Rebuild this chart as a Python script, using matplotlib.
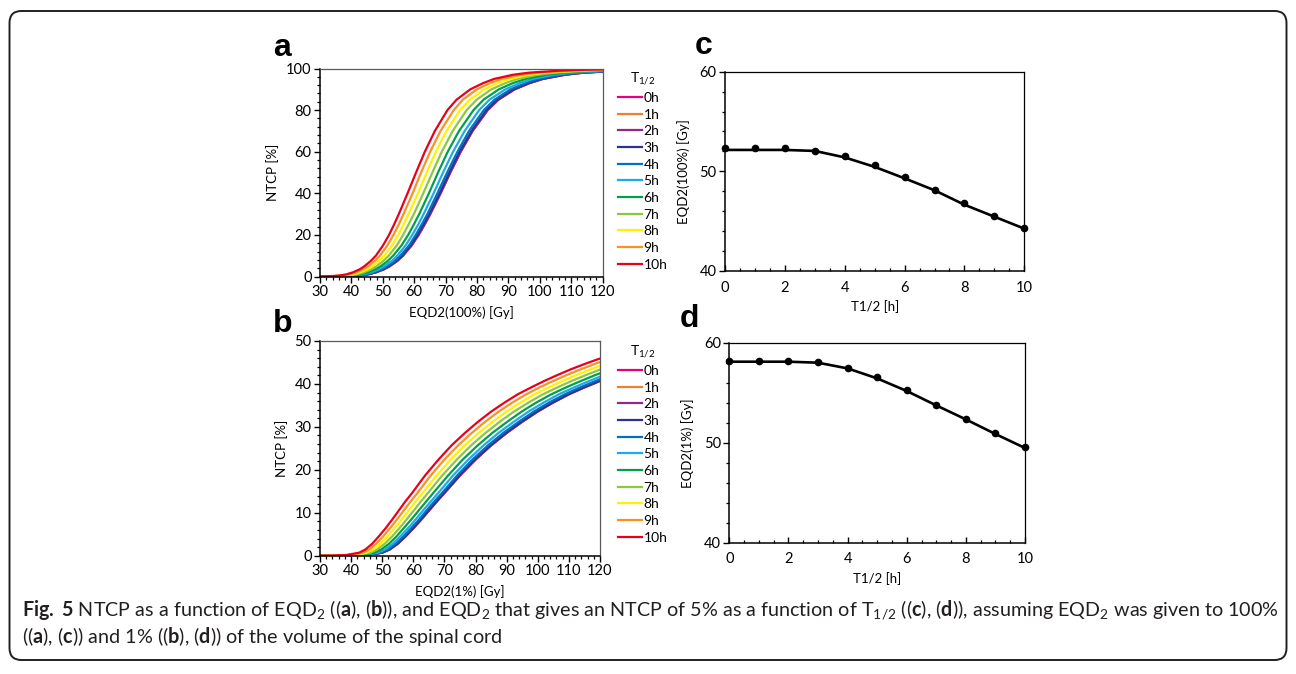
import matplotlib
matplotlib.use("Agg")
import matplotlib.pyplot as plt
from matplotlib.patches import FancyBboxPatch
from matplotlib.transforms import IdentityTransform
from matplotlib.ticker import MultipleLocator

plt.rcParams['font.family'] = ['Lato', 'DejaVu Sans']
plt.rcParams['mathtext.fontset'] = 'custom'
plt.rcParams['mathtext.rm'] = 'Lato'
plt.rcParams['mathtext.it'] = 'Lato:italic'
plt.rcParams['mathtext.bf'] = 'Lato:bold'

# ---- data ----
labels = ['0h', '1h', '2h', '3h', '4h', '5h', '6h', '7h', '8h', '9h', '10h']
colors = ['#E6007E', '#F07D32', '#92278F', '#2E3192', '#0070C0', '#1FA9EC',
          '#00A04B', '#8DC63F', '#FFF200', '#F7941D', '#E8001C']

# panel a: NTCP levels and the EQD2(100%) at which each curve reaches them
ntcp_a = [0, 0.05, 0.2, 0.5, 1, 2, 3.5, 5, 7.5, 10, 15, 20, 25, 30, 40, 50, 60,
          70, 80, 85, 90, 93, 95, 97, 98, 99, 99.5, 99.7]
eqd2_a = [
    [20, 35.5, 39.8, 42.8, 45.2, 47.8, 50.4, 52.2, 54.6, 56.4, 59.2, 61.4, 63.3, 65.1,
     68.4, 71.5, 74.8, 78.6, 83.4, 86.8, 92.0, 96.8, 101.0, 108.0, 114.0, 126.0, 138.0, 150.0],
    [20, 35.5, 39.8, 42.8, 45.2, 47.8, 50.4, 52.2, 54.6, 56.4, 59.2, 61.4, 63.3, 65.1,
     68.4, 71.5, 74.8, 78.6, 83.4, 86.8, 92.0, 96.8, 101.0, 108.0, 114.0, 126.0, 138.0, 150.0],
    [20, 35.5, 39.8, 42.8, 45.2, 47.8, 50.4, 52.2, 54.6, 56.4, 59.2, 61.4, 63.3, 65.1,
     68.4, 71.5, 74.8, 78.6, 83.4, 86.8, 92.0, 96.8, 101.0, 108.0, 114.0, 126.0, 138.0, 150.0],
    [20, 35.3, 39.6, 42.6, 45.0, 47.6, 50.2, 52.0, 54.4, 56.2, 58.9, 61.1, 63.0, 64.8,
     68.1, 71.2, 74.5, 78.3, 83.0, 86.4, 91.6, 96.4, 100.6, 107.5, 113.5, 125.4, 137.4, 149.3],
    [20, 35.0, 39.2, 42.2, 44.6, 47.1, 49.7, 51.5, 53.8, 55.6, 58.4, 60.5, 62.4, 64.2,
     67.4, 70.5, 73.8, 77.5, 82.2, 85.6, 90.7, 95.4, 99.6, 106.5, 112.4, 124.2, 136.1, 147.9],
    [20, 34.4, 38.5, 41.4, 43.8, 46.3, 48.8, 50.5, 52.9, 54.6, 57.3, 59.4, 61.3, 63.0,
     66.2, 69.2, 72.4, 76.1, 80.7, 84.0, 89.1, 93.7, 97.8, 104.5, 110.4, 122.0, 133.6, 145.2],
    [20, 33.6, 37.6, 40.5, 42.7, 45.2, 47.7, 49.4, 51.6, 53.3, 56.0, 58.1, 59.9, 61.6,
     64.7, 67.6, 70.7, 74.3, 78.9, 82.1, 87.0, 91.5, 95.5, 102.1, 107.8, 119.2, 130.5, 141.9],
    [20, 32.7, 36.6, 39.4, 41.6, 44.0, 46.4, 48.0, 50.2, 51.9, 54.5, 56.5, 58.2, 59.9,
     62.9, 65.8, 68.8, 72.3, 76.7, 79.9, 84.6, 89.1, 92.9, 99.4, 104.9, 115.9, 127.0, 138.0],
    [20, 31.8, 35.6, 38.3, 40.4, 42.8, 45.1, 46.7, 48.8, 50.5, 53.0, 54.9, 56.6, 58.2,
     61.2, 64.0, 66.9, 70.3, 74.6, 77.7, 82.3, 86.6, 90.4, 96.6, 102.0, 112.7, 123.5, 134.2],
    [20, 30.9, 34.6, 37.2, 39.3, 41.6, 43.8, 45.4, 47.5, 49.1, 51.5, 53.4, 55.1, 56.6,
     59.5, 62.2, 65.1, 68.4, 72.6, 75.5, 80.0, 84.2, 87.9, 94.0, 99.2, 109.6, 120.1, 130.5],
    [20, 30.1, 33.7, 36.3, 38.3, 40.5, 42.7, 44.2, 46.2, 47.8, 50.1, 52.0, 53.6, 55.1,
     57.9, 60.6, 63.4, 66.6, 70.6, 73.5, 77.9, 82.0, 85.5, 91.5, 96.6, 106.7, 116.9, 127.1],
]

# panel b: NTCP levels and the EQD2(1%) at which each curve reaches them
ntcp_b = [0, 0.03, 0.15, 0.7, 1.5, 2.8, 4.5, 6.4, 8.4, 10.5, 12.6, 14.6, 18.7, 22.4,
          25.7, 28.6, 31.2, 33.6, 35.7, 37.6, 39.2, 40.7, 42.1, 43.4, 44.6, 45.7, 46.7]
eqd2_b = [
    [30, 40, 45, 50, 52.5, 55, 57.5, 60, 62.5, 65, 67.5, 70, 75, 80, 85, 90, 95, 100,
     105, 110, 115, 120, 125, 130, 135, 140, 145],
    [30, 40, 45, 50, 52.5, 55, 57.5, 60, 62.5, 65, 67.5, 70, 75, 80, 85, 90, 95, 100,
     105, 110, 115, 120, 125, 130, 135, 140, 145],
    [30, 40, 45, 50, 52.5, 55, 57.5, 60, 62.5, 65, 67.5, 70, 75, 80, 85, 90, 95, 100,
     105, 110, 115, 120, 125, 130, 135, 140, 145],
    [29.9, 39.9, 44.9, 49.9, 52.4, 54.9, 57.4, 59.9, 62.4, 64.9, 67.4, 69.8, 74.8, 79.8,
     84.8, 89.8, 94.8, 99.8, 104.8, 109.8, 114.7, 119.7, 124.7, 129.7, 134.7, 139.7, 144.7],
    [29.6, 39.5, 44.5, 49.4, 51.9, 54.3, 56.8, 59.3, 61.8, 64.2, 66.7, 69.2, 74.1, 79.0,
     84.0, 88.9, 93.9, 98.8, 103.7, 108.7, 113.6, 118.6, 123.5, 128.4, 133.4, 138.3, 143.3],
    [29.1, 38.9, 43.7, 48.6, 51.0, 53.4, 55.8, 58.3, 60.7, 63.1, 65.6, 68.0, 72.8, 77.7,
     82.6, 87.4, 92.3, 97.1, 102.0, 106.8, 111.7, 116.6, 121.4, 126.3, 131.1, 136.0, 140.8],
    [28.5, 38.0, 42.7, 47.5, 49.8, 52.2, 54.6, 56.9, 59.3, 61.7, 64.1, 66.4, 71.2, 75.9,
     80.7, 85.4, 90.2, 94.9, 99.6, 104.4, 109.1, 113.9, 118.6, 123.4, 128.1, 132.9, 137.6],
    [27.7, 37.0, 41.6, 46.2, 48.5, 50.8, 53.2, 55.5, 57.8, 60.1, 62.4, 64.7, 69.3, 74.0,
     78.6, 83.2, 87.8, 92.4, 97.1, 101.7, 106.3, 110.9, 115.6, 120.2, 124.8, 129.4, 134.0],
    [27.0, 36.0, 40.5, 45.0, 47.2, 49.5, 51.7, 54.0, 56.2, 58.5, 60.7, 63.0, 67.5, 72.0,
     76.5, 81.0, 85.5, 90.0, 94.5, 99.0, 103.5, 108.0, 112.5, 117.0, 121.5, 126.0, 130.5],
    [26.3, 35.0, 39.4, 43.8, 45.9, 48.1, 50.3, 52.5, 54.7, 56.9, 59.1, 61.3, 65.6, 70.0,
     74.4, 78.8, 83.1, 87.5, 91.9, 96.3, 100.6, 105.0, 109.4, 113.8, 118.1, 122.5, 126.9],
    [25.5, 34.0, 38.3, 42.6, 44.7, 46.8, 48.9, 51.1, 53.2, 55.3, 57.4, 59.6, 63.8, 68.1,
     72.3, 76.6, 80.8, 85.1, 89.4, 93.6, 97.9, 102.1, 106.4, 110.6, 114.9, 119.1, 123.4],
]

# panels c, d: EQD2 giving NTCP = 5% vs T1/2
t_half = [0, 1, 2, 3, 4, 5, 6, 7, 8, 9, 10]
c_dots = [52.31, 52.3, 52.3, 52.07, 51.57, 50.64, 49.46, 48.13, 46.79, 45.52, 44.31]
c_line = [52.15, 52.15, 52.15, 52.05, 51.4, 50.45, 49.3, 48.1, 46.65, 45.45, 44.25]
d_dots = [58.17, 58.2, 58.2, 58.07, 57.5, 56.53, 55.23, 53.8, 52.37, 50.93, 49.53]
d_line = [58.1, 58.1, 58.1, 58.0, 57.43, 56.43, 55.17, 53.73, 52.33, 50.87, 49.47]

W, H = 1296, 674
fig = plt.figure(figsize=(W / 100, H / 100), dpi=100)


def px_axes(l, t, r, b):
    """add axes from pixel box (left, top, right, bottom)"""
    return fig.add_axes([l / W, 1 - b / H, (r - l) / W, (b - t) / H])


def style_axes(ax):
    for side in ['left', 'bottom']:
        ax.spines[side].set_color('black')
        ax.spines[side].set_linewidth(1.1)
    for side in ['top', 'right']:
        ax.spines[side].set_color('#595959')
        ax.spines[side].set_linewidth(0.9)
    ax.tick_params(which='major', direction='out', length=4, width=1,
                   labelsize=10.5, pad=2)
    ax.tick_params(which='minor', direction='out', length=2.5, width=0.9)


def curve_panel(ax, xs, ys, ymax, ymajor, xlabel, legend_top):
    for k, lab in enumerate(labels):
        ax.plot(xs[k], ys, color=colors[k], lw=1.6, label=lab)
    ax.set_xlim(30, 120)
    ax.set_ylim(0, ymax)
    ax.xaxis.set_major_locator(MultipleLocator(10))
    ax.xaxis.set_minor_locator(MultipleLocator(2))
    ax.yaxis.set_major_locator(MultipleLocator(ymajor))
    ax.yaxis.set_minor_locator(MultipleLocator(ymajor / 5))
    style_axes(ax)
    ax.set_xlabel(xlabel, fontsize=9.5, labelpad=5)
    ax.set_ylabel('NTCP [%]', fontsize=9.5, labelpad=5)
    ax.legend(loc='upper left', bbox_to_anchor=(618 / W, 1 - legend_top / H),
              bbox_transform=fig.transFigure, frameon=False, fontsize=10,
              title='T$_{1/2}$', title_fontsize=10, handlelength=1.75,
              handletextpad=0.1, labelspacing=0.335, borderpad=0,
              borderaxespad=0)


def t_panel(ax, dots, line, ylabel):
    ax.plot(t_half, line, color='black', lw=1.9)
    ax.plot(t_half, dots, 'o', color='black', ms=4.5, clip_on=False, zorder=3)
    ax.set_xlim(0, 10)
    ax.set_ylim(40, 60)
    ax.xaxis.set_major_locator(MultipleLocator(2))
    ax.xaxis.set_minor_locator(MultipleLocator(0.5))
    ax.yaxis.set_major_locator(MultipleLocator(10))
    ax.yaxis.set_minor_locator(MultipleLocator(2))
    style_axes(ax)
    for side in ['top', 'right']:
        ax.spines[side].set_color('black')
    ax.tick_params(axis='x', which='both', direction='in')
    ax.tick_params(axis='x', which='major', pad=7)
    ax.set_xlabel('T1/2 [h]', fontsize=9.5, labelpad=4)
    ax.set_ylabel(ylabel, fontsize=9.5, labelpad=7)


ax_a = px_axes(320, 68.5, 602.5, 276.5)
curve_panel(ax_a, eqd2_a, ntcp_a, 100, 20, 'EQD2(100%) [Gy]', 71)

ax_b = px_axes(320, 341, 600, 555.7)
curve_panel(ax_b, eqd2_b, ntcp_b, 50, 10, 'EQD2(1%) [Gy]', 344)

ax_c = px_axes(725, 71.7, 1024.3, 271)
t_panel(ax_c, c_dots, c_line, 'EQD2(100%) [Gy]')

ax_d = px_axes(729.3, 342.7, 1025, 542.7)
t_panel(ax_d, d_dots, d_line, 'EQD2(1%) [Gy]')

# panel letters
for letter, x, y in [('a', 273, 56), ('b', 273, 332), ('c', 695, 54), ('d', 680, 327)]:
    fig.text(x / W, 1 - y / H, letter, fontsize=23, fontweight='bold',
             family='Liberation Sans', va='baseline')

# caption
line1 = (r"$\mathbf{Fig.}$ $\mathbf{5}$ NTCP as a function of EQD$_2$ (($\mathbf{a}$), ($\mathbf{b}$)), "
         r"and EQD$_2$ that gives an NTCP of 5% as a function of T$_{1/2}$ "
         r"(($\mathbf{c}$), ($\mathbf{d}$)), assuming EQD$_2$ was given to 100%")
line2 = (r"(($\mathbf{a}$), ($\mathbf{c}$)) and 1% (($\mathbf{b}$), ($\mathbf{d}$)) "
         r"of the volume of the spinal cord")
fig.text(22 / W, 1 - 616 / H, line1, fontsize=14.2, va='baseline', color='#231F20')
fig.text(22 / W, 1 - 643 / H, line2, fontsize=14.2, va='baseline', color='#231F20')

# rounded frame around the whole figure
frame = FancyBboxPatch((9.5, 14), 1277, 649,
                       boxstyle='round,pad=0,rounding_size=12',
                       transform=IdentityTransform(), fill=False,
                       lw=1.4, ec='#231F20')
fig.add_artist(frame)

fig.savefig('out.png', dpi=100)
